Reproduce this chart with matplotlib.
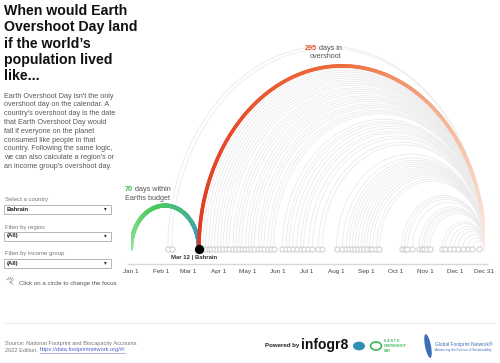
import numpy as np
import matplotlib.pyplot as plt
from matplotlib.collections import LineCollection
from matplotlib.colors import LinearSegmentedColormap
from matplotlib.patches import Rectangle, Circle, Ellipse

plt.rcParams['font.family'] = ['Liberation Sans', 'DejaVu Sans']

# overshoot day of every country (day of year, Jan 1 = 0)
country_days = [38, 42, 70, 74, 77, 80, 83, 86, 89, 92, 95, 98, 101, 105, 108,
                111, 114, 118, 121, 124, 127, 131, 134, 137, 141, 144, 147,
                156, 160, 163, 167, 171, 175, 178, 183, 187, 193, 197,
                212, 218, 222, 225, 228, 231, 234, 237, 240, 243, 246, 249,
                253, 256, 279, 282, 285, 290, 297, 300, 302, 305, 308,
                321, 324, 329, 333, 337, 342, 347, 352, 359]
focus_country = "Bahrain"
focus_date = "Mar 12"
focus_day = 70
year_end = 365

tick_days = [0, 31, 59, 90, 120, 151, 181, 212, 243, 273, 304, 334, 364]
tick_labels = ["Jan 1", "Feb 1", "Mar 1", "Apr 1", "May 1", "Jun 1", "Jul 1",
               "Aug 1", "Sep 1", "Oct 1", "Nov 1", "Dec 1", "Dec 31"]

title_lines = ["When would Earth", "Overshoot Day land", "if the world\u2019s",
               "population lived", "like..."]
intro_lines = ["Earth Overshoot Day isn't the only",
               "overshoot day on the calendar. A",
               "country's overshoot day is the date",
               "that Earth Overshoot Day would",
               "fall if everyone on the planet",
               "consumed like people in that",
               "country. Following the same logic,",
               "we can also calculate a region's or",
               "an income group's overshoot day."]
filter_labels = ["Select a country", "Filter by region", "Filter by income group"]
filter_values = ["Bahrain", "(All)", "(All)"]

W, H = 500, 363


def fx(x):
    return x / W


def fy(y):
    return 1 - y / H


def arc(x0, x1, n=150):
    c = (x0 + x1) / 2
    r = (x1 - x0) / 2
    th = np.linspace(np.pi, 0, n)
    return c + r * np.cos(th), r * np.sin(th)


def gradient_arc(ax, x0, x1, cmap, lw):
    x, y = arc(x0, x1, 300)
    pts = np.column_stack([x, y]).reshape(-1, 1, 2)
    segs = np.concatenate([pts[:-1], pts[1:]], axis=1)
    lc = LineCollection(segs, cmap=cmap, linewidths=lw, capstyle='round', zorder=3)
    lc.set_array(np.linspace(0, 1, len(segs)))
    ax.add_collection(lc)


fig = plt.figure(figsize=(5, 3.63), dpi=100)
renderer = fig.canvas.get_renderer()

# ---- main arc chart ----
px_per_day = (485 - 131) / year_end
py_per_unit = px_per_day * 1.28
top_px, bot_px, base_px = 30, 292, 249
ax = fig.add_axes([fx(131), fy(bot_px), (485 - 131) / W, (bot_px - top_px) / H])
ax.set_xlim(0, year_end)
ax.set_ylim(-(bot_px - base_px) / py_per_unit, (base_px - top_px) / py_per_unit)
ax.axis('off')

for d in country_days:
    if d == focus_day:
        continue
    x, y = arc(d, year_end)
    ax.plot(x, y, color='#ebebeb', lw=0.6, zorder=1)

green = LinearSegmentedColormap.from_list(
    'g', [(0, '#93e39c'), (0.4, '#4dca5d'), (0.75, '#44b48c'), (1, '#3a90d6')])
orange = LinearSegmentedColormap.from_list(
    'o', [(0, '#df3620'), (0.5, '#ef6c3a'), (0.75, '#f5b394'), (1, '#fdece5')])
gradient_arc(ax, 0, focus_day, green, 3.0)
gradient_arc(ax, focus_day, year_end, orange, 2.6)

others = [d for d in country_days if d != focus_day]
ax.scatter(others, np.zeros(len(others)), s=14, facecolor='white',
           edgecolor='#c4c4c4', linewidth=0.6, zorder=4)
ax.scatter([focus_day], [0], s=32, color='black', zorder=5)

axis_y = -(264 - base_px) / py_per_unit
label_y = -(271.5 - base_px) / py_per_unit
ax.plot([-3, year_end + 2], [axis_y, axis_y], color='#d8d8d8', lw=1.0, clip_on=False)
for d, lab in zip(tick_days, tick_labels):
    ax.text(d, label_y, lab, ha='center', va='center', fontsize=4.6, color='#444444')

ax.text(focus_day - 5, -(257 - base_px) / py_per_unit,
        f"{focus_date} | {focus_country}", ha='center', va='center',
        fontsize=4.3, color='#333333', fontweight='bold')


def two_tone(x, y, first, rest, color, size=5.2):
    t = fig.text(fx(x), fy(y), first, color=color, fontweight='bold',
                 fontsize=size, va='center', ha='left')
    w = t.get_window_extent(renderer).width
    fig.text(fx(x + w), fy(y), rest, color='#555555', fontsize=size,
             va='center', ha='left')


within = focus_day
overshoot = year_end - focus_day
two_tone(125, 190, str(within), " days within", '#3dbb55')
fig.text(fx(125), fy(199), "Earths budget", color='#555555', fontsize=5.2, va='center')
two_tone(305, 48, str(overshoot), " days in", '#e8512c')
fig.text(fx(310), fy(56.5), "overshoot", color='#555555', fontsize=5.2, va='center')

# ---- left panel ----
for i, line in enumerate(title_lines):
    fig.text(fx(4), fy(11 + i * 16.3), line, fontsize=10.2, fontweight='bold',
             color='#111111', va='center', ha='left')
for i, line in enumerate(intro_lines):
    fig.text(fx(4), fy(96 + i * 8.8), line, fontsize=5.2, color='#5a5a5a',
             va='center', ha='left')

for i, (lab, val) in enumerate(zip(filter_labels, filter_values)):
    yc = 209 + i * 27
    fig.text(fx(5), fy(yc - 9), lab, fontsize=4.3, color='#777777', va='center')
    fig.add_artist(Rectangle((fx(4), fy(yc + 4.5)), 107 / W, 9 / H,
                             transform=fig.transFigure, facecolor='white',
                             edgecolor='#aaaaaa', linewidth=0.6))
    fig.text(fx(7), fy(yc), val, fontsize=4.3, color='#222222',
             fontweight='bold', va='center')
    fig.text(fx(105), fy(yc), "\u25be", fontsize=4, color='#333333',
             va='center', ha='center', family='DejaVu Sans')

# click icon
for a in np.linspace(0.3, 2.6, 5):
    fig.add_artist(plt.Line2D([fx(10 + 2 * np.cos(a)), fx(10 + 4 * np.cos(a))],
                              [fy(281 - 2 * np.sin(a)), fy(281 - 4 * np.sin(a))],
                              transform=fig.transFigure, color='#888888', lw=0.5))
fig.text(fx(11), fy(284), "\u2196", fontsize=4.5, color='#666666', va='center',
         ha='center', family='DejaVu Sans')
fig.text(fx(19), fy(283), "Click on a circle to change the focus", fontsize=4.4,
         color='#555555', va='center')

# ---- footer ----
fig.add_artist(plt.Line2D([fx(5), fx(495)], [fy(323), fy(323)],
                          transform=fig.transFigure, color='#e8e8e8', lw=0.8))
fig.text(fx(5), fy(343), "Source: National Footprint and Biocapacity Accounts",
         fontsize=4.1, color='#777777', va='center')
t = fig.text(fx(5), fy(350), "2022 Edition, ", fontsize=4.1, color='#777777', va='center')
w = t.get_window_extent(renderer).width
link = fig.text(fx(5 + w), fy(350), "https://data.footprintnetwork.org/#/",
                fontsize=4.1, color='#4b64c8', va='center')
lw_ = link.get_window_extent(renderer).width
fig.add_artist(plt.Line2D([fx(5 + w), fx(5 + w + lw_)], [fy(352.5), fy(352.5)],
                          transform=fig.transFigure, color='#8a6fd0', lw=0.4))

fig.text(fx(265), fy(346), "Powered by", fontsize=4.4, color='#222222', va='center',
         fontweight='bold')
fig.text(fx(301), fy(345), "infogr8", fontsize=10, color='#111111', va='center',
         fontweight='bold')

fig.add_artist(Circle((fx(359), fy(346)), 6 / W, transform=fig.transFigure,
                      facecolor='#2e8fb5', edgecolor='none'))
fig.add_artist(Circle((fx(376), fy(346)), 5.5 / W, transform=fig.transFigure,
                      facecolor='none', edgecolor='#3db860', lw=1.2))
fig.text(fx(384), fy(341), "E A R T H", fontsize=2.4, color='#3db860',
         va='center', fontweight='bold')
fig.text(fx(384), fy(346), "OVERSHOOT", fontsize=2.6, color='#3db860',
         va='center', fontweight='bold')
fig.text(fx(384), fy(351), "DAY", fontsize=2.6, color='#3db860',
         va='center', fontweight='bold')

fig.add_artist(Ellipse((fx(428), fy(346)), 6 / W, 24 / H, transform=fig.transFigure,
                       facecolor='#3d6fb8', edgecolor='none', angle=8))
fig.text(fx(435), fy(344), "Global Footprint Network\u00ae", fontsize=3.4,
         color='#3d6fb8', va='center')
fig.text(fx(435), fy(349.5), "Advancing the Science of Sustainability",
         fontsize=2.3, color='#3d6fb8', va='center')

fig.savefig("out.png", dpi=100, facecolor='white')
